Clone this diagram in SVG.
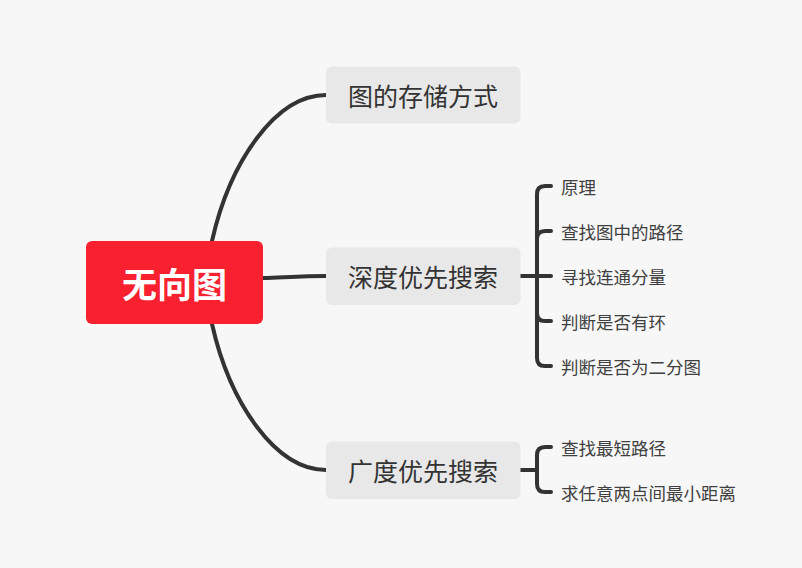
<svg xmlns="http://www.w3.org/2000/svg" width="802" height="568" viewBox="0 0 802 568">
<style>
.ln{fill:none;stroke:#333333;stroke-width:4;stroke-linecap:round;stroke-linejoin:round}
.br{fill:#e8e8e8}
.bt{font-family:"Noto Sans CJK SC","Noto Sans",sans-serif;font-size:25px;fill:#333333;text-anchor:middle;dominant-baseline:central}
.ct{font-family:"Noto Sans CJK SC","Noto Sans",sans-serif;font-size:17.5px;fill:#404040;dominant-baseline:central}
</style>
<rect width="802" height="568" fill="#f7f7f7"/>
<g id="connectors">
<path class="ln" d="M212,241 C230,161 276,95 326,95"/>
<path class="ln" d="M263,278 C290,277 305,276 326,276"/>
<path class="ln" d="M212,324 C230,404 276,470 326,470"/>
<path class="ln" d="M520,276 H537 V194 Q537,186 545,186 H551"/>
<path class="ln" d="M537,276 V239 Q537,231 545,231 H551"/>
<path class="ln" d="M537,276 H551"/>
<path class="ln" d="M537,276 V313 Q537,321 545,321 H551"/>
<path class="ln" d="M537,276 V358 Q537,366 545,366 H551"/>
<path class="ln" d="M520,470 H537 V455 Q537,447 545,447 H551"/>
<path class="ln" d="M537,470 V484 Q537,492 545,492 H551"/>
</g>
<g id="root">
<rect x="86" y="241" width="177" height="83" rx="6" fill="#f9202f"/>
<text x="174.5" y="282" font-family="'Noto Sans CJK SC','Noto Sans',sans-serif" font-size="35" font-weight="bold" fill="#ffffff" text-anchor="middle" dominant-baseline="central">无向图</text>
</g>
<g id="n-storage">
<rect class="br" x="326" y="66.5" width="194.5" height="57" rx="6"/>
<text class="bt" x="423" y="95">图的存储方式</text>
</g>
<g id="n-dfs">
<rect class="br" x="326" y="247.5" width="194.5" height="57.5" rx="6"/>
<text class="bt" x="423" y="276">深度优先搜索</text>
</g>
<g id="n-bfs">
<rect class="br" x="326" y="441.5" width="194.5" height="57.5" rx="6"/>
<text class="bt" x="423" y="470">广度优先搜索</text>
</g>
<g id="c-dfs1"><text class="ct" x="561" y="186">原理</text></g>
<g id="c-dfs2"><text class="ct" x="561" y="231">查找图中的路径</text></g>
<g id="c-dfs3"><text class="ct" x="561" y="276">寻找连通分量</text></g>
<g id="c-dfs4"><text class="ct" x="561" y="321">判断是否有环</text></g>
<g id="c-dfs5"><text class="ct" x="561" y="366">判断是否为二分图</text></g>
<g id="c-bfs1"><text class="ct" x="561" y="447">查找最短路径</text></g>
<g id="c-bfs2"><text class="ct" x="561" y="492">求任意两点间最小距离</text></g>
</svg>
